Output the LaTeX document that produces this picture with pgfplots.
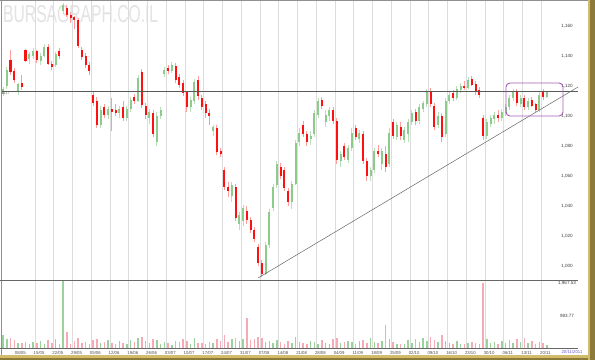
\documentclass[border=0pt]{standalone}
\usepackage{fontspec}
\setmainfont{Liberation Sans}
\usepackage{graphicx}
\usepackage{pgfplots}
\usepackage{pgfplotstable}
\pgfplotsset{compat=1.18}
\definecolor{cgreen}{HTML}{8CCB8C}
\definecolor{cred}{HTML}{FF1010}
\definecolor{wgreen}{HTML}{B8DFB8}
\definecolor{wred}{HTML}{FF9C9C}
\definecolor{vgreen}{HTML}{9BD29B}
\definecolor{vred}{HTML}{F6AAB6}
\definecolor{gridc}{HTML}{DCDCDC}
\definecolor{frameg}{HTML}{8F8F8F}
\definecolor{gold}{HTML}{8C7A3A}
\definecolor{goldl}{HTML}{D2BC6C}
\definecolor{boxp}{HTML}{A45EB4}

\pgfplotstableread{
i o h l c v
0 1115 1119 1113 1118 380
1 1120 1133 1118 1131 260
2 1137 1144 1127 1129 300
3 1130 1132 1122 1124 240
4 1116 1122 1114 1121 160
5 1122 1127 1117 1119 140
6 1144 1145 1136 1137 180
7 1138 1143 1135 1141 120
8 1140 1145 1138 1143 170
9 1143 1144 1135 1137 150
10 1137 1142 1134 1140 200
11 1140 1148 1139 1146 130
12 1146 1148 1134 1135 230
13 1135 1137 1131 1133 160
14 1134 1143 1133 1141 260
15 1143 1145 1138 1140 110
16 1170 1175 1168 1174 2050
17 1172 1174 1166 1167 480
18 1167 1169 1162 1165 130
19 1166 1167 1158 1164 220
20 1164 1165 1145 1147 300
21 1144 1146 1137 1139 150
22 1140 1142 1132 1134 180
23 1134 1136 1127 1130 120
24 1114 1116 1107 1109 250
25 1110 1113 1092 1094 270
26 1094 1107 1092 1104 140
27 1106 1108 1099 1101 170
28 1101 1107 1098 1105 230
29 1105 1112 1090 1103 150
30 1104 1108 1100 1102 120
31 1102 1107 1099 1105 200
32 1106 1110 1097 1099 160
33 1099 1107 1097 1105 130
34 1105 1113 1103 1111 240
35 1113 1115 1108 1110 180
36 1110 1127 1109 1125 290
37 1129 1131 1105 1107 330
38 1107 1109 1098 1101 200
39 1099 1105 1095 1103 150
40 1102 1104 1086 1088 280
41 1083 1103 1080 1100 230
42 1100 1106 1098 1104 120
43 1128 1133 1126 1131 190
44 1132 1134 1128 1130 140
45 1130 1136 1129 1134 100
46 1133 1135 1122 1124 210
47 1126 1128 1119 1121 170
48 1122 1124 1113 1115 260
49 1116 1117 1103 1106 200
50 1106 1113 1103 1111 130
51 1110 1125 1108 1123 310
52 1124 1127 1111 1113 160
53 1112 1114 1104 1106 150
54 1108 1110 1099 1102 110
55 1102 1105 1094 1100 190
56 1090 1094 1087 1093 140
57 1092 1094 1074 1076 280
58 1077 1079 1073 1075 220
59 1064 1066 1051 1053 400
60 1053 1056 1046 1050 190
61 1047 1056 1043 1054 260
62 1053 1055 1030 1032 310
63 1028 1036 1024 1034 200
64 1030 1041 1027 1039 270
65 1037 1040 1028 1031 910
66 1031 1033 1022 1024 240
67 1024 1026 1016 1018 280
68 1013 1015 1000 1002 330
69 1002 1004 992.5 995 290
70 995 1016 994 1014 180
71 1014 1038 1012 1036 210
72 1039 1055 1037 1053 150
73 1054 1070 1052 1068 240
74 1066 1069 1058 1060 170
75 1064 1066 1050 1052 130
76 1050 1052 1040 1043 200
77 1043 1057 1038 1055 160
78 1055 1084 1054 1082 320
79 1083 1092 1080 1089 190
80 1094 1097 1086 1088 140
81 1088 1090 1080 1083 120
82 1085 1090 1081 1087 210
83 1088 1104 1086 1102 170
84 1101 1112 1099 1110 130
85 1111 1113 1105 1107 230
86 1096 1104 1093 1101 150
87 1100 1106 1097 1104 120
88 1104 1106 1095 1097 260
89 1097 1099 1068 1071 300
90 1070 1077 1066 1075 140
91 1080 1082 1071 1073 180
92 1071 1081 1069 1079 220
93 1079 1092 1077 1089 170
94 1092 1094 1084 1086 130
95 1085 1091 1082 1089 200
96 1088 1090 1068 1070 240
97 1070 1072 1057 1060 150
98 1060 1066 1057 1064 310
99 1064 1079 1062 1077 180
100 1077 1081 1073 1075 140
101 1068 1079 1064 1077 220
102 1075 1080 1063 1066 700
103 1068 1092 1066 1089 280
104 1096 1098 1085 1087 170
105 1086 1096 1084 1094 130
106 1093 1096 1084 1087 120
107 1084 1093 1082 1091 110
108 1088 1098 1083 1096 230
109 1096 1104 1094 1102 150
110 1103 1105 1094 1097 260
111 1097 1108 1095 1106 190
112 1105 1110 1103 1109 300
113 1108 1118 1106 1116 210
114 1117 1119 1106 1108 340
115 1107 1109 1091 1093 250
116 1094 1103 1092 1100 180
117 1100 1102 1083 1086 400
118 1088 1112 1086 1110 220
119 1110 1116 1108 1114 140
120 1115 1117 1110 1112 120
121 1112 1120 1111 1118 210
122 1117 1122 1115 1120 130
123 1120 1123 1117 1119 110
124 1119 1126 1118 1124 160
125 1125 1127 1120 1121 190
126 1121 1123 1114 1116 150
127 1117 1119 1112 1114 120
128 1099 1101 1084 1087 1960
129 1087 1098 1085 1096 280
130 1095 1101 1093 1099 150
131 1098 1103 1095 1101 170
132 1101 1104 1096 1099 130
133 1099 1105 1097 1103 200
134 1102 1108 1100 1106 160
135 1106 1114 1104 1112 240
136 1112 1118 1110 1116 140
137 1117 1118 1107 1109 260
138 1108 1114 1106 1112 180
139 1112 1114 1104 1106 310
140 1106 1112 1104 1110 150
141 1111 1113 1106 1107 200
142 1108 1109 1103 1104 130
143 1104 1116 1103 1114 170
144 1116 1118 1111 1113 150
145 1113 1117 1112 1116 90
}\candles

\pgfplotsset{
  common/.style={
    scale only axis, anchor=south west, width=586bp,
    xmin=-0.293, xmax=155.97,
    axis line style={draw=none},
    xtick={8.5,13.5,...,143.5}, xticklabels={},
    xmajorgrids, major grid style={gridc, line width=0.6bp},
    major tick length=0pt,
    yticklabel pos=right,
    yticklabel style={font=\fontsize{4.6}{5}\selectfont, anchor=center, xshift=-21bp, text=black!75},
  },
  upc/.style={restrict expr to domain={\thisrow{c}-\thisrow{o}}{0:10000}},
  dnc/.style={restrict expr to domain={\thisrow{o}-\thisrow{c}}{0.001:10000}},
  nomk/.style={only marks, mark=none, mark size=0pt, mark options={draw=none, fill=none}},
}

\begin{document}
\begin{tikzpicture}[x=1bp,y=1bp]
\useasboundingbox (0,0) rectangle (595,360);
\fill[white] (0,0) rectangle (595,360);
\node[anchor=north west, inner sep=0, text=black!11] at (3,355) {\resizebox{155bp}{17bp}{BURSAGRAPH.CO.IL}};

\begin{axis}[common,
  at={(2bp,80bp)}, height=279bp,
  ymin=990.667, ymax=1176.667,
  ytick={1000,1020,...,1160},
  yticklabels={{1,000},{1,020},{1,040},{1,060},{1,080},{1,100},{1,120},{1,140},{1,160}},
]
% wicks
\addplot[wgreen, nomk, forget plot, upc,
  error bars/.cd, y dir=both, y explicit, error mark=none,
  error bar style={line width=0.8bp, wgreen}]
  table[x=i, y expr={(\thisrow{h}+\thisrow{l})/2}, y error expr={(\thisrow{h}-\thisrow{l})/2}] {\candles};
\addplot[wred, nomk, forget plot, dnc,
  error bars/.cd, y dir=both, y explicit, error mark=none,
  error bar style={line width=0.8bp, wred}]
  table[x=i, y expr={(\thisrow{h}+\thisrow{l})/2}, y error expr={(\thisrow{h}-\thisrow{l})/2}] {\candles};
% bodies
\addplot[cgreen, nomk, forget plot, upc,
  error bars/.cd, y dir=both, y explicit, error mark=none,
  error bar style={line width=2.2bp, cgreen}]
  table[x=i, y expr={(\thisrow{o}+\thisrow{c})/2}, y error expr={max(abs(\thisrow{c}-\thisrow{o})/2,0.4)}] {\candles};
\addplot[cred, nomk, forget plot, dnc,
  error bars/.cd, y dir=both, y explicit, error mark=none,
  error bar style={line width=2.2bp, cred}]
  table[x=i, y expr={(\thisrow{o}+\thisrow{c})/2}, y error expr={max(abs(\thisrow{c}-\thisrow{o})/2,0.4)}] {\candles};
% lines
\draw[black!65, line width=0.6bp] (axis cs:-0.29,1116.7) -- (axis cs:153.3,1116.7);
\draw[black!60, line width=0.5bp] (axis cs:67.97,992) -- (axis cs:153.3,1119.3);
\draw[boxp, line width=0.9bp, rounded corners=4bp] (axis cs:134.1,1122) rectangle (axis cs:149.3,1100);
\end{axis}

\begin{axis}[common,
  at={(2bp,12bp)}, height=68bp,
  ymin=0, ymax=2060,
  ytick={983.77,1967.53}, yticklabels={983.77,{1,967.53}},
  extra x ticks={4.6,9.6,...,144.6},
  extra x tick labels={08/05,15/05,22/05,29/05,05/06,12/06,19/06,26/06,03/07,10/07,17/07,24/07,31/07,07/08,14/08,21/08,28/08,04/09,11/09,18/09,25/09,02/10,09/10,16/10,23/10,30/10,06/11,13/11,20/11},
  extra x tick style={grid=none, tick label style={font=\fontsize{4.3}{5}\selectfont, text=black!70, yshift=0.5bp}},
]
\addplot[ycomb, mark=none, vgreen, line width=1.5bp, upc] table[x=i, y=v] {\candles};
\addplot[ycomb, mark=none, vred, line width=1.5bp, dnc] table[x=i, y=v] {\candles};
\end{axis}

% frame lines
\draw[frameg, line width=0.9bp] (1,5) -- (1,360);
\draw[frameg, line width=0.7bp] (0,359.6) -- (588,359.6);
\draw[black!60, line width=0.7bp] (0,80) -- (578,80);
\draw[black!60, line width=0.7bp] (0,12) -- (578,12);
\node[font=\fontsize{4.3}{5}\selectfont, text={rgb,255:red,110;green,90;blue,200}, inner sep=0] at (572,8) {20/11/2011};
\node[font=\fontsize{3.5}{4}\selectfont, text=black!60, anchor=west, inner sep=0] at (2,266.5) {1117};
% gold border
\fill[goldl] (0,0) rectangle (595,5);
\fill[gold] (0,0) rectangle (595,1.8);
\fill[gold] (588,0) rectangle (595,360);
\fill[goldl] (588,0) rectangle (589.5,360);
\end{tikzpicture}
\end{document}
